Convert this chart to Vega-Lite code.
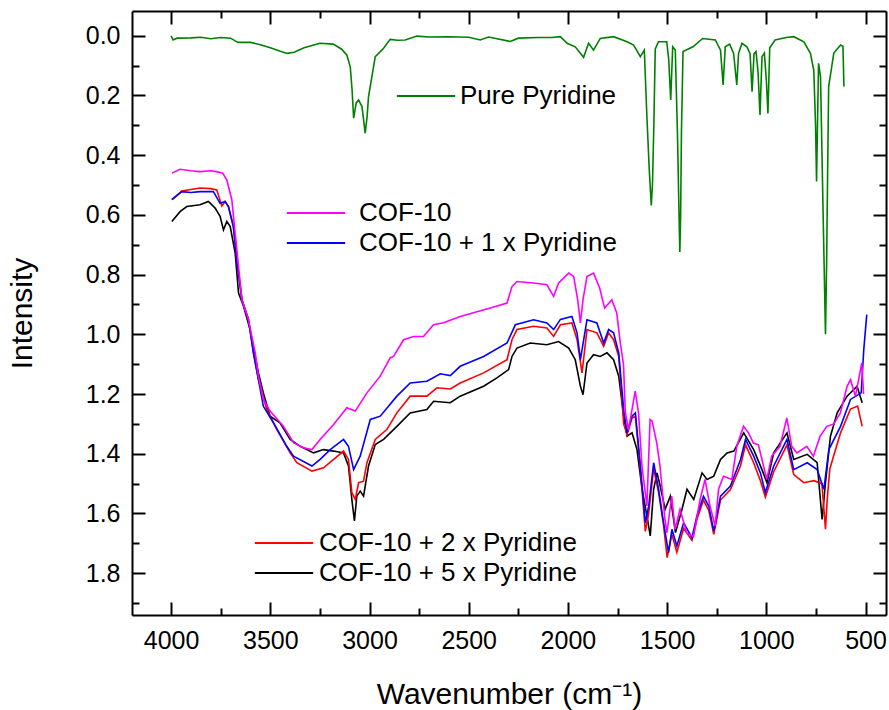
{
 "$schema": "https://vega.github.io/schema/vega-lite/v6.json",
 "width": 754,
 "height": 604,
 "autosize": {"type": "none"},
 "padding": {"left": 132, "top": 11, "right": 3, "bottom": 95},
 "background": "white",
 "config": {"view": {"stroke": null}, "font": "Liberation Sans"},
 "data": {"values": [
  {"s":"Pure Pyridine","w":4000,"v":0.0},{"s":"Pure Pyridine","w":3990,"v":0.014},{"s":"Pure Pyridine","w":3970,"v":0.008},{"s":"Pure Pyridine","w":3900,"v":0.007},{"s":"Pure Pyridine","w":3850,"v":0.005},{"s":"Pure Pyridine","w":3800,"v":0.01},{"s":"Pure Pyridine","w":3750,"v":0.006},{"s":"Pure Pyridine","w":3700,"v":0.008},{"s":"Pure Pyridine","w":3675,"v":0.018},{"s":"Pure Pyridine","w":3662,"v":0.022},{"s":"Pure Pyridine","w":3600,"v":0.022},{"s":"Pure Pyridine","w":3550,"v":0.03},{"s":"Pure Pyridine","w":3500,"v":0.04},{"s":"Pure Pyridine","w":3450,"v":0.052},{"s":"Pure Pyridine","w":3415,"v":0.059},{"s":"Pure Pyridine","w":3380,"v":0.055},{"s":"Pure Pyridine","w":3330,"v":0.04},{"s":"Pure Pyridine","w":3249,"v":0.025},{"s":"Pure Pyridine","w":3183,"v":0.028},{"s":"Pure Pyridine","w":3140,"v":0.045},{"s":"Pure Pyridine","w":3114,"v":0.065},{"s":"Pure Pyridine","w":3097,"v":0.104},{"s":"Pure Pyridine","w":3088,"v":0.18},{"s":"Pure Pyridine","w":3080,"v":0.276},{"s":"Pure Pyridine","w":3067,"v":0.225},{"s":"Pure Pyridine","w":3055,"v":0.215},{"s":"Pure Pyridine","w":3038,"v":0.237},{"s":"Pure Pyridine","w":3030,"v":0.28},{"s":"Pure Pyridine","w":3022,"v":0.326},{"s":"Pure Pyridine","w":3012,"v":0.27},{"s":"Pure Pyridine","w":3005,"v":0.204},{"s":"Pure Pyridine","w":2988,"v":0.137},{"s":"Pure Pyridine","w":2971,"v":0.07},{"s":"Pure Pyridine","w":2929,"v":0.042},{"s":"Pure Pyridine","w":2896,"v":0.012},{"s":"Pure Pyridine","w":2860,"v":0.015},{"s":"Pure Pyridine","w":2820,"v":0.014},{"s":"Pure Pyridine","w":2761,"v":0.001},{"s":"Pure Pyridine","w":2700,"v":0.004},{"s":"Pure Pyridine","w":2600,"v":0.003},{"s":"Pure Pyridine","w":2500,"v":0.005},{"s":"Pure Pyridine","w":2442,"v":0.014},{"s":"Pure Pyridine","w":2400,"v":0.004},{"s":"Pure Pyridine","w":2290,"v":0.019},{"s":"Pure Pyridine","w":2250,"v":0.008},{"s":"Pure Pyridine","w":2150,"v":0.006},{"s":"Pure Pyridine","w":2080,"v":0.006},{"s":"Pure Pyridine","w":2038,"v":0.003},{"s":"Pure Pyridine","w":2004,"v":0.025},{"s":"Pure Pyridine","w":1963,"v":0.037},{"s":"Pure Pyridine","w":1921,"v":0.072},{"s":"Pure Pyridine","w":1896,"v":0.025},{"s":"Pure Pyridine","w":1871,"v":0.048},{"s":"Pure Pyridine","w":1837,"v":0.009},{"s":"Pure Pyridine","w":1770,"v":0.003},{"s":"Pure Pyridine","w":1702,"v":0.02},{"s":"Pure Pyridine","w":1669,"v":0.031},{"s":"Pure Pyridine","w":1635,"v":0.07},{"s":"Pure Pyridine","w":1615,"v":0.048},{"s":"Pure Pyridine","w":1602,"v":0.271},{"s":"Pure Pyridine","w":1590,"v":0.45},{"s":"Pure Pyridine","w":1580,"v":0.568},{"s":"Pure Pyridine","w":1574,"v":0.5},{"s":"Pure Pyridine","w":1567,"v":0.3},{"s":"Pure Pyridine","w":1560,"v":0.045},{"s":"Pure Pyridine","w":1544,"v":0.02},{"s":"Pure Pyridine","w":1502,"v":0.02},{"s":"Pure Pyridine","w":1492,"v":0.08},{"s":"Pure Pyridine","w":1482,"v":0.215},{"s":"Pure Pyridine","w":1472,"v":0.037},{"s":"Pure Pyridine","w":1459,"v":0.048},{"s":"Pure Pyridine","w":1448,"v":0.327},{"s":"Pure Pyridine","w":1440,"v":0.6},{"s":"Pure Pyridine","w":1436,"v":0.724},{"s":"Pure Pyridine","w":1432,"v":0.6},{"s":"Pure Pyridine","w":1428,"v":0.327},{"s":"Pure Pyridine","w":1420,"v":0.053},{"s":"Pure Pyridine","w":1370,"v":0.037},{"s":"Pure Pyridine","w":1321,"v":0.009},{"s":"Pure Pyridine","w":1257,"v":0.014},{"s":"Pure Pyridine","w":1231,"v":0.048},{"s":"Pure Pyridine","w":1218,"v":0.165},{"s":"Pure Pyridine","w":1207,"v":0.037},{"s":"Pure Pyridine","w":1185,"v":0.028},{"s":"Pure Pyridine","w":1165,"v":0.059},{"s":"Pure Pyridine","w":1149,"v":0.165},{"s":"Pure Pyridine","w":1140,"v":0.059},{"s":"Pure Pyridine","w":1123,"v":0.025},{"s":"Pure Pyridine","w":1098,"v":0.037},{"s":"Pure Pyridine","w":1082,"v":0.06},{"s":"Pure Pyridine","w":1072,"v":0.187},{"s":"Pure Pyridine","w":1062,"v":0.06},{"s":"Pure Pyridine","w":1052,"v":0.053},{"s":"Pure Pyridine","w":1042,"v":0.12},{"s":"Pure Pyridine","w":1032,"v":0.265},{"s":"Pure Pyridine","w":1022,"v":0.07},{"s":"Pure Pyridine","w":1010,"v":0.058},{"s":"Pure Pyridine","w":1000,"v":0.15},{"s":"Pure Pyridine","w":992,"v":0.26},{"s":"Pure Pyridine","w":983,"v":0.04},{"s":"Pure Pyridine","w":956,"v":0.014},{"s":"Pure Pyridine","w":900,"v":0.006},{"s":"Pure Pyridine","w":862,"v":0.003},{"s":"Pure Pyridine","w":811,"v":0.02},{"s":"Pure Pyridine","w":778,"v":0.059},{"s":"Pure Pyridine","w":761,"v":0.115},{"s":"Pure Pyridine","w":752,"v":0.3},{"s":"Pure Pyridine","w":747,"v":0.488},{"s":"Pure Pyridine","w":741,"v":0.25},{"s":"Pure Pyridine","w":737,"v":0.092},{"s":"Pure Pyridine","w":727,"v":0.137},{"s":"Pure Pyridine","w":712,"v":0.661},{"s":"Pure Pyridine","w":702,"v":1.0},{"s":"Pure Pyridine","w":696,"v":0.75},{"s":"Pure Pyridine","w":692,"v":0.505},{"s":"Pure Pyridine","w":686,"v":0.17},{"s":"Pure Pyridine","w":660,"v":0.058},{"s":"Pure Pyridine","w":626,"v":0.031},{"s":"Pure Pyridine","w":614,"v":0.035},{"s":"Pure Pyridine","w":609,"v":0.17},

  {"s":"COF-10 + 5 x Pyridine","w":3996,"v":0.622},{"s":"COF-10 + 5 x Pyridine","w":3955,"v":0.589},{"s":"COF-10 + 5 x Pyridine","w":3921,"v":0.572},{"s":"COF-10 + 5 x Pyridine","w":3854,"v":0.566},{"s":"COF-10 + 5 x Pyridine","w":3812,"v":0.555},{"s":"COF-10 + 5 x Pyridine","w":3778,"v":0.577},{"s":"COF-10 + 5 x Pyridine","w":3753,"v":0.605},{"s":"COF-10 + 5 x Pyridine","w":3736,"v":0.65},{"s":"COF-10 + 5 x Pyridine","w":3719,"v":0.622},{"s":"COF-10 + 5 x Pyridine","w":3702,"v":0.639},{"s":"COF-10 + 5 x Pyridine","w":3677,"v":0.728},{"s":"COF-10 + 5 x Pyridine","w":3660,"v":0.862},{"s":"COF-10 + 5 x Pyridine","w":3635,"v":0.906},{"s":"COF-10 + 5 x Pyridine","w":3602,"v":0.984},{"s":"COF-10 + 5 x Pyridine","w":3576,"v":1.074},{"s":"COF-10 + 5 x Pyridine","w":3560,"v":1.129},{"s":"COF-10 + 5 x Pyridine","w":3535,"v":1.196},{"s":"COF-10 + 5 x Pyridine","w":3501,"v":1.274},{"s":"COF-10 + 5 x Pyridine","w":3451,"v":1.296},{"s":"COF-10 + 5 x Pyridine","w":3400,"v":1.352},{"s":"COF-10 + 5 x Pyridine","w":3349,"v":1.375},{"s":"COF-10 + 5 x Pyridine","w":3282,"v":1.397},{"s":"COF-10 + 5 x Pyridine","w":3232,"v":1.386},{"s":"COF-10 + 5 x Pyridine","w":3181,"v":1.391},{"s":"COF-10 + 5 x Pyridine","w":3131,"v":1.397},{"s":"COF-10 + 5 x Pyridine","w":3106,"v":1.441},{"s":"COF-10 + 5 x Pyridine","w":3089,"v":1.553},{"s":"COF-10 + 5 x Pyridine","w":3076,"v":1.625},{"s":"COF-10 + 5 x Pyridine","w":3064,"v":1.542},{"s":"COF-10 + 5 x Pyridine","w":3047,"v":1.525},{"s":"COF-10 + 5 x Pyridine","w":3030,"v":1.542},{"s":"COF-10 + 5 x Pyridine","w":3005,"v":1.441},{"s":"COF-10 + 5 x Pyridine","w":2971,"v":1.369},{"s":"COF-10 + 5 x Pyridine","w":2929,"v":1.352},{"s":"COF-10 + 5 x Pyridine","w":2862,"v":1.308},{"s":"COF-10 + 5 x Pyridine","w":2795,"v":1.263},{"s":"COF-10 + 5 x Pyridine","w":2711,"v":1.252},{"s":"COF-10 + 5 x Pyridine","w":2677,"v":1.224},{"s":"COF-10 + 5 x Pyridine","w":2593,"v":1.229},{"s":"COF-10 + 5 x Pyridine","w":2543,"v":1.207},{"s":"COF-10 + 5 x Pyridine","w":2425,"v":1.174},{"s":"COF-10 + 5 x Pyridine","w":2358,"v":1.146},{"s":"COF-10 + 5 x Pyridine","w":2299,"v":1.118},{"s":"COF-10 + 5 x Pyridine","w":2282,"v":1.074},{"s":"COF-10 + 5 x Pyridine","w":2257,"v":1.046},{"s":"COF-10 + 5 x Pyridine","w":2190,"v":1.029},{"s":"COF-10 + 5 x Pyridine","w":2106,"v":1.035},{"s":"COF-10 + 5 x Pyridine","w":2047,"v":1.024},{"s":"COF-10 + 5 x Pyridine","w":1996,"v":1.046},{"s":"COF-10 + 5 x Pyridine","w":1963,"v":1.085},{"s":"COF-10 + 5 x Pyridine","w":1937,"v":1.174},{"s":"COF-10 + 5 x Pyridine","w":1924,"v":1.202},{"s":"COF-10 + 5 x Pyridine","w":1904,"v":1.096},{"s":"COF-10 + 5 x Pyridine","w":1871,"v":1.068},{"s":"COF-10 + 5 x Pyridine","w":1837,"v":1.074},{"s":"COF-10 + 5 x Pyridine","w":1803,"v":1.062},{"s":"COF-10 + 5 x Pyridine","w":1770,"v":1.085},{"s":"COF-10 + 5 x Pyridine","w":1744,"v":1.14},{"s":"COF-10 + 5 x Pyridine","w":1719,"v":1.274},{"s":"COF-10 + 5 x Pyridine","w":1702,"v":1.341},{"s":"COF-10 + 5 x Pyridine","w":1677,"v":1.33},{"s":"COF-10 + 5 x Pyridine","w":1652,"v":1.386},{"s":"COF-10 + 5 x Pyridine","w":1626,"v":1.519},{"s":"COF-10 + 5 x Pyridine","w":1602,"v":1.608},{"s":"COF-10 + 5 x Pyridine","w":1585,"v":1.675},{"s":"COF-10 + 5 x Pyridine","w":1568,"v":1.519},{"s":"COF-10 + 5 x Pyridine","w":1551,"v":1.464},{"s":"COF-10 + 5 x Pyridine","w":1535,"v":1.508},{"s":"COF-10 + 5 x Pyridine","w":1510,"v":1.586},{"s":"COF-10 + 5 x Pyridine","w":1484,"v":1.542},{"s":"COF-10 + 5 x Pyridine","w":1458,"v":1.664},{"s":"COF-10 + 5 x Pyridine","w":1425,"v":1.586},{"s":"COF-10 + 5 x Pyridine","w":1400,"v":1.519},{"s":"COF-10 + 5 x Pyridine","w":1366,"v":1.553},{"s":"COF-10 + 5 x Pyridine","w":1324,"v":1.464},{"s":"COF-10 + 5 x Pyridine","w":1299,"v":1.486},{"s":"COF-10 + 5 x Pyridine","w":1265,"v":1.475},{"s":"COF-10 + 5 x Pyridine","w":1231,"v":1.419},{"s":"COF-10 + 5 x Pyridine","w":1198,"v":1.397},{"s":"COF-10 + 5 x Pyridine","w":1164,"v":1.391},{"s":"COF-10 + 5 x Pyridine","w":1114,"v":1.33},{"s":"COF-10 + 5 x Pyridine","w":1064,"v":1.386},{"s":"COF-10 + 5 x Pyridine","w":1022,"v":1.453},{"s":"COF-10 + 5 x Pyridine","w":997,"v":1.497},{"s":"COF-10 + 5 x Pyridine","w":963,"v":1.397},{"s":"COF-10 + 5 x Pyridine","w":896,"v":1.33},{"s":"COF-10 + 5 x Pyridine","w":862,"v":1.419},{"s":"COF-10 + 5 x Pyridine","w":794,"v":1.402},{"s":"COF-10 + 5 x Pyridine","w":744,"v":1.43},{"s":"COF-10 + 5 x Pyridine","w":719,"v":1.62},{"s":"COF-10 + 5 x Pyridine","w":702,"v":1.497},{"s":"COF-10 + 5 x Pyridine","w":677,"v":1.341},{"s":"COF-10 + 5 x Pyridine","w":643,"v":1.263},{"s":"COF-10 + 5 x Pyridine","w":593,"v":1.207},{"s":"COF-10 + 5 x Pyridine","w":543,"v":1.174},{"s":"COF-10 + 5 x Pyridine","w":517,"v":1.229},

  {"s":"COF-10 + 2 x Pyridine","w":3996,"v":0.549},{"s":"COF-10 + 2 x Pyridine","w":3946,"v":0.52},{"s":"COF-10 + 2 x Pyridine","w":3900,"v":0.515},{"s":"COF-10 + 2 x Pyridine","w":3854,"v":0.51},{"s":"COF-10 + 2 x Pyridine","w":3800,"v":0.512},{"s":"COF-10 + 2 x Pyridine","w":3770,"v":0.516},{"s":"COF-10 + 2 x Pyridine","w":3744,"v":0.57},{"s":"COF-10 + 2 x Pyridine","w":3728,"v":0.555},{"s":"COF-10 + 2 x Pyridine","w":3711,"v":0.572},{"s":"COF-10 + 2 x Pyridine","w":3686,"v":0.639},{"s":"COF-10 + 2 x Pyridine","w":3669,"v":0.75},{"s":"COF-10 + 2 x Pyridine","w":3643,"v":0.884},{"s":"COF-10 + 2 x Pyridine","w":3610,"v":0.951},{"s":"COF-10 + 2 x Pyridine","w":3585,"v":1.062},{"s":"COF-10 + 2 x Pyridine","w":3560,"v":1.151},{"s":"COF-10 + 2 x Pyridine","w":3518,"v":1.252},{"s":"COF-10 + 2 x Pyridine","w":3467,"v":1.319},{"s":"COF-10 + 2 x Pyridine","w":3400,"v":1.397},{"s":"COF-10 + 2 x Pyridine","w":3366,"v":1.43},{"s":"COF-10 + 2 x Pyridine","w":3290,"v":1.458},{"s":"COF-10 + 2 x Pyridine","w":3232,"v":1.447},{"s":"COF-10 + 2 x Pyridine","w":3181,"v":1.419},{"s":"COF-10 + 2 x Pyridine","w":3131,"v":1.391},{"s":"COF-10 + 2 x Pyridine","w":3106,"v":1.419},{"s":"COF-10 + 2 x Pyridine","w":3089,"v":1.53},{"s":"COF-10 + 2 x Pyridine","w":3072,"v":1.553},{"s":"COF-10 + 2 x Pyridine","w":3055,"v":1.497},{"s":"COF-10 + 2 x Pyridine","w":3030,"v":1.492},{"s":"COF-10 + 2 x Pyridine","w":3013,"v":1.43},{"s":"COF-10 + 2 x Pyridine","w":2971,"v":1.352},{"s":"COF-10 + 2 x Pyridine","w":2913,"v":1.319},{"s":"COF-10 + 2 x Pyridine","w":2862,"v":1.263},{"s":"COF-10 + 2 x Pyridine","w":2795,"v":1.207},{"s":"COF-10 + 2 x Pyridine","w":2711,"v":1.207},{"s":"COF-10 + 2 x Pyridine","w":2660,"v":1.179},{"s":"COF-10 + 2 x Pyridine","w":2593,"v":1.183},{"s":"COF-10 + 2 x Pyridine","w":2543,"v":1.163},{"s":"COF-10 + 2 x Pyridine","w":2425,"v":1.129},{"s":"COF-10 + 2 x Pyridine","w":2307,"v":1.085},{"s":"COF-10 + 2 x Pyridine","w":2282,"v":1.018},{"s":"COF-10 + 2 x Pyridine","w":2257,"v":0.984},{"s":"COF-10 + 2 x Pyridine","w":2173,"v":0.973},{"s":"COF-10 + 2 x Pyridine","w":2106,"v":0.979},{"s":"COF-10 + 2 x Pyridine","w":2072,"v":1.007},{"s":"COF-10 + 2 x Pyridine","w":2038,"v":0.968},{"s":"COF-10 + 2 x Pyridine","w":1980,"v":0.962},{"s":"COF-10 + 2 x Pyridine","w":1954,"v":1.018},{"s":"COF-10 + 2 x Pyridine","w":1929,"v":1.129},{"s":"COF-10 + 2 x Pyridine","w":1904,"v":0.984},{"s":"COF-10 + 2 x Pyridine","w":1854,"v":0.995},{"s":"COF-10 + 2 x Pyridine","w":1820,"v":1.04},{"s":"COF-10 + 2 x Pyridine","w":1795,"v":0.995},{"s":"COF-10 + 2 x Pyridine","w":1770,"v":1.018},{"s":"COF-10 + 2 x Pyridine","w":1744,"v":1.074},{"s":"COF-10 + 2 x Pyridine","w":1730,"v":1.2},{"s":"COF-10 + 2 x Pyridine","w":1719,"v":1.3},{"s":"COF-10 + 2 x Pyridine","w":1702,"v":1.336},{"s":"COF-10 + 2 x Pyridine","w":1677,"v":1.28},{"s":"COF-10 + 2 x Pyridine","w":1660,"v":1.275},{"s":"COF-10 + 2 x Pyridine","w":1635,"v":1.45},{"s":"COF-10 + 2 x Pyridine","w":1610,"v":1.66},{"s":"COF-10 + 2 x Pyridine","w":1593,"v":1.6},{"s":"COF-10 + 2 x Pyridine","w":1568,"v":1.45},{"s":"COF-10 + 2 x Pyridine","w":1543,"v":1.53},{"s":"COF-10 + 2 x Pyridine","w":1518,"v":1.64},{"s":"COF-10 + 2 x Pyridine","w":1500,"v":1.748},{"s":"COF-10 + 2 x Pyridine","w":1476,"v":1.67},{"s":"COF-10 + 2 x Pyridine","w":1451,"v":1.73},{"s":"COF-10 + 2 x Pyridine","w":1417,"v":1.65},{"s":"COF-10 + 2 x Pyridine","w":1375,"v":1.69},{"s":"COF-10 + 2 x Pyridine","w":1350,"v":1.62},{"s":"COF-10 + 2 x Pyridine","w":1317,"v":1.555},{"s":"COF-10 + 2 x Pyridine","w":1290,"v":1.59},{"s":"COF-10 + 2 x Pyridine","w":1265,"v":1.67},{"s":"COF-10 + 2 x Pyridine","w":1231,"v":1.555},{"s":"COF-10 + 2 x Pyridine","w":1181,"v":1.52},{"s":"COF-10 + 2 x Pyridine","w":1130,"v":1.44},{"s":"COF-10 + 2 x Pyridine","w":1105,"v":1.37},{"s":"COF-10 + 2 x Pyridine","w":1064,"v":1.43},{"s":"COF-10 + 2 x Pyridine","w":1030,"v":1.49},{"s":"COF-10 + 2 x Pyridine","w":1005,"v":1.545},{"s":"COF-10 + 2 x Pyridine","w":963,"v":1.46},{"s":"COF-10 + 2 x Pyridine","w":896,"v":1.37},{"s":"COF-10 + 2 x Pyridine","w":862,"v":1.47},{"s":"COF-10 + 2 x Pyridine","w":811,"v":1.497},{"s":"COF-10 + 2 x Pyridine","w":760,"v":1.49},{"s":"COF-10 + 2 x Pyridine","w":720,"v":1.5},{"s":"COF-10 + 2 x Pyridine","w":702,"v":1.653},{"s":"COF-10 + 2 x Pyridine","w":693,"v":1.55},{"s":"COF-10 + 2 x Pyridine","w":680,"v":1.45},{"s":"COF-10 + 2 x Pyridine","w":626,"v":1.33},{"s":"COF-10 + 2 x Pyridine","w":576,"v":1.25},{"s":"COF-10 + 2 x Pyridine","w":540,"v":1.24},{"s":"COF-10 + 2 x Pyridine","w":517,"v":1.308},

  {"s":"COF-10 + 1 x Pyridine","w":3996,"v":0.549},{"s":"COF-10 + 1 x Pyridine","w":3946,"v":0.522},{"s":"COF-10 + 1 x Pyridine","w":3900,"v":0.525},{"s":"COF-10 + 1 x Pyridine","w":3854,"v":0.522},{"s":"COF-10 + 1 x Pyridine","w":3787,"v":0.522},{"s":"COF-10 + 1 x Pyridine","w":3753,"v":0.561},{"s":"COF-10 + 1 x Pyridine","w":3728,"v":0.555},{"s":"COF-10 + 1 x Pyridine","w":3711,"v":0.572},{"s":"COF-10 + 1 x Pyridine","w":3686,"v":0.639},{"s":"COF-10 + 1 x Pyridine","w":3669,"v":0.75},{"s":"COF-10 + 1 x Pyridine","w":3643,"v":0.884},{"s":"COF-10 + 1 x Pyridine","w":3610,"v":0.951},{"s":"COF-10 + 1 x Pyridine","w":3585,"v":1.062},{"s":"COF-10 + 1 x Pyridine","w":3560,"v":1.151},{"s":"COF-10 + 1 x Pyridine","w":3535,"v":1.241},{"s":"COF-10 + 1 x Pyridine","w":3484,"v":1.296},{"s":"COF-10 + 1 x Pyridine","w":3417,"v":1.375},{"s":"COF-10 + 1 x Pyridine","w":3383,"v":1.408},{"s":"COF-10 + 1 x Pyridine","w":3290,"v":1.441},{"s":"COF-10 + 1 x Pyridine","w":3249,"v":1.419},{"s":"COF-10 + 1 x Pyridine","w":3198,"v":1.386},{"s":"COF-10 + 1 x Pyridine","w":3131,"v":1.352},{"s":"COF-10 + 1 x Pyridine","w":3106,"v":1.375},{"s":"COF-10 + 1 x Pyridine","w":3080,"v":1.453},{"s":"COF-10 + 1 x Pyridine","w":3047,"v":1.408},{"s":"COF-10 + 1 x Pyridine","w":2996,"v":1.285},{"s":"COF-10 + 1 x Pyridine","w":2946,"v":1.274},{"s":"COF-10 + 1 x Pyridine","w":2862,"v":1.207},{"s":"COF-10 + 1 x Pyridine","w":2795,"v":1.163},{"s":"COF-10 + 1 x Pyridine","w":2711,"v":1.157},{"s":"COF-10 + 1 x Pyridine","w":2643,"v":1.132},{"s":"COF-10 + 1 x Pyridine","w":2593,"v":1.138},{"s":"COF-10 + 1 x Pyridine","w":2543,"v":1.107},{"s":"COF-10 + 1 x Pyridine","w":2425,"v":1.074},{"s":"COF-10 + 1 x Pyridine","w":2307,"v":1.029},{"s":"COF-10 + 1 x Pyridine","w":2265,"v":0.968},{"s":"COF-10 + 1 x Pyridine","w":2173,"v":0.951},{"s":"COF-10 + 1 x Pyridine","w":2106,"v":0.962},{"s":"COF-10 + 1 x Pyridine","w":2072,"v":0.984},{"s":"COF-10 + 1 x Pyridine","w":2038,"v":0.95},{"s":"COF-10 + 1 x Pyridine","w":1980,"v":0.94},{"s":"COF-10 + 1 x Pyridine","w":1954,"v":0.995},{"s":"COF-10 + 1 x Pyridine","w":1937,"v":1.085},{"s":"COF-10 + 1 x Pyridine","w":1904,"v":0.951},{"s":"COF-10 + 1 x Pyridine","w":1854,"v":0.962},{"s":"COF-10 + 1 x Pyridine","w":1820,"v":1.029},{"s":"COF-10 + 1 x Pyridine","w":1795,"v":0.984},{"s":"COF-10 + 1 x Pyridine","w":1770,"v":0.995},{"s":"COF-10 + 1 x Pyridine","w":1744,"v":1.062},{"s":"COF-10 + 1 x Pyridine","w":1719,"v":1.252},{"s":"COF-10 + 1 x Pyridine","w":1702,"v":1.33},{"s":"COF-10 + 1 x Pyridine","w":1677,"v":1.274},{"s":"COF-10 + 1 x Pyridine","w":1660,"v":1.263},{"s":"COF-10 + 1 x Pyridine","w":1635,"v":1.441},{"s":"COF-10 + 1 x Pyridine","w":1610,"v":1.631},{"s":"COF-10 + 1 x Pyridine","w":1593,"v":1.575},{"s":"COF-10 + 1 x Pyridine","w":1568,"v":1.43},{"s":"COF-10 + 1 x Pyridine","w":1543,"v":1.519},{"s":"COF-10 + 1 x Pyridine","w":1518,"v":1.631},{"s":"COF-10 + 1 x Pyridine","w":1493,"v":1.731},{"s":"COF-10 + 1 x Pyridine","w":1476,"v":1.653},{"s":"COF-10 + 1 x Pyridine","w":1451,"v":1.709},{"s":"COF-10 + 1 x Pyridine","w":1417,"v":1.631},{"s":"COF-10 + 1 x Pyridine","w":1375,"v":1.681},{"s":"COF-10 + 1 x Pyridine","w":1350,"v":1.608},{"s":"COF-10 + 1 x Pyridine","w":1317,"v":1.542},{"s":"COF-10 + 1 x Pyridine","w":1290,"v":1.575},{"s":"COF-10 + 1 x Pyridine","w":1265,"v":1.659},{"s":"COF-10 + 1 x Pyridine","w":1231,"v":1.542},{"s":"COF-10 + 1 x Pyridine","w":1181,"v":1.508},{"s":"COF-10 + 1 x Pyridine","w":1130,"v":1.419},{"s":"COF-10 + 1 x Pyridine","w":1105,"v":1.352},{"s":"COF-10 + 1 x Pyridine","w":1064,"v":1.408},{"s":"COF-10 + 1 x Pyridine","w":1030,"v":1.464},{"s":"COF-10 + 1 x Pyridine","w":1005,"v":1.53},{"s":"COF-10 + 1 x Pyridine","w":963,"v":1.441},{"s":"COF-10 + 1 x Pyridine","w":896,"v":1.352},{"s":"COF-10 + 1 x Pyridine","w":862,"v":1.453},{"s":"COF-10 + 1 x Pyridine","w":794,"v":1.43},{"s":"COF-10 + 1 x Pyridine","w":744,"v":1.453},{"s":"COF-10 + 1 x Pyridine","w":710,"v":1.519},{"s":"COF-10 + 1 x Pyridine","w":685,"v":1.386},{"s":"COF-10 + 1 x Pyridine","w":626,"v":1.308},{"s":"COF-10 + 1 x Pyridine","w":576,"v":1.218},{"s":"COF-10 + 1 x Pyridine","w":522,"v":1.196},{"s":"COF-10 + 1 x Pyridine","w":509,"v":1.051},{"s":"COF-10 + 1 x Pyridine","w":494,"v":0.934},

  {"s":"COF-10","w":3996,"v":0.46},{"s":"COF-10","w":3955,"v":0.447},{"s":"COF-10","w":3900,"v":0.452},{"s":"COF-10","w":3854,"v":0.455},{"s":"COF-10","w":3800,"v":0.452},{"s":"COF-10","w":3770,"v":0.455},{"s":"COF-10","w":3740,"v":0.46},{"s":"COF-10","w":3719,"v":0.483},{"s":"COF-10","w":3694,"v":0.549},{"s":"COF-10","w":3677,"v":0.661},{"s":"COF-10","w":3660,"v":0.773},{"s":"COF-10","w":3643,"v":0.884},{"s":"COF-10","w":3610,"v":0.951},{"s":"COF-10","w":3576,"v":1.062},{"s":"COF-10","w":3560,"v":1.14},{"s":"COF-10","w":3535,"v":1.218},{"s":"COF-10","w":3501,"v":1.257},{"s":"COF-10","w":3434,"v":1.308},{"s":"COF-10","w":3383,"v":1.363},{"s":"COF-10","w":3333,"v":1.38},{"s":"COF-10","w":3290,"v":1.386},{"s":"COF-10","w":3249,"v":1.352},{"s":"COF-10","w":3181,"v":1.302},{"s":"COF-10","w":3114,"v":1.246},{"s":"COF-10","w":3072,"v":1.257},{"s":"COF-10","w":3013,"v":1.196},{"s":"COF-10","w":2946,"v":1.14},{"s":"COF-10","w":2896,"v":1.079},{"s":"COF-10","w":2879,"v":1.074},{"s":"COF-10","w":2828,"v":1.018},{"s":"COF-10","w":2778,"v":1.007},{"s":"COF-10","w":2728,"v":1.007},{"s":"COF-10","w":2677,"v":0.968},{"s":"COF-10","w":2627,"v":0.961},{"s":"COF-10","w":2543,"v":0.94},{"s":"COF-10","w":2391,"v":0.912},{"s":"COF-10","w":2307,"v":0.895},{"s":"COF-10","w":2282,"v":0.84},{"s":"COF-10","w":2257,"v":0.823},{"s":"COF-10","w":2173,"v":0.828},{"s":"COF-10","w":2106,"v":0.834},{"s":"COF-10","w":2072,"v":0.873},{"s":"COF-10","w":2047,"v":0.828},{"s":"COF-10","w":1996,"v":0.795},{"s":"COF-10","w":1971,"v":0.806},{"s":"COF-10","w":1951,"v":0.884},{"s":"COF-10","w":1937,"v":0.962},{"s":"COF-10","w":1924,"v":0.884},{"s":"COF-10","w":1904,"v":0.806},{"s":"COF-10","w":1871,"v":0.795},{"s":"COF-10","w":1840,"v":0.845},{"s":"COF-10","w":1815,"v":0.912},{"s":"COF-10","w":1779,"v":0.884},{"s":"COF-10","w":1754,"v":0.928},{"s":"COF-10","w":1736,"v":1.029},{"s":"COF-10","w":1720,"v":1.1},{"s":"COF-10","w":1711,"v":1.26},{"s":"COF-10","w":1695,"v":1.32},{"s":"COF-10","w":1677,"v":1.252},{"s":"COF-10","w":1661,"v":1.19},{"s":"COF-10","w":1644,"v":1.264},{"s":"COF-10","w":1627,"v":1.441},{"s":"COF-10","w":1602,"v":1.575},{"s":"COF-10","w":1586,"v":1.285},{"s":"COF-10","w":1576,"v":1.29},{"s":"COF-10","w":1552,"v":1.365},{"s":"COF-10","w":1536,"v":1.441},{"s":"COF-10","w":1511,"v":1.62},{"s":"COF-10","w":1501,"v":1.664},{"s":"COF-10","w":1477,"v":1.542},{"s":"COF-10","w":1460,"v":1.653},{"s":"COF-10","w":1435,"v":1.586},{"s":"COF-10","w":1401,"v":1.666},{"s":"COF-10","w":1367,"v":1.677},{"s":"COF-10","w":1334,"v":1.553},{"s":"COF-10","w":1309,"v":1.486},{"s":"COF-10","w":1284,"v":1.575},{"s":"COF-10","w":1258,"v":1.642},{"s":"COF-10","w":1241,"v":1.519},{"s":"COF-10","w":1216,"v":1.475},{"s":"COF-10","w":1174,"v":1.486},{"s":"COF-10","w":1149,"v":1.375},{"s":"COF-10","w":1115,"v":1.308},{"s":"COF-10","w":1090,"v":1.33},{"s":"COF-10","w":1065,"v":1.364},{"s":"COF-10","w":1040,"v":1.37},{"s":"COF-10","w":998,"v":1.486},{"s":"COF-10","w":973,"v":1.408},{"s":"COF-10","w":931,"v":1.375},{"s":"COF-10","w":897,"v":1.28},{"s":"COF-10","w":872,"v":1.375},{"s":"COF-10","w":846,"v":1.397},{"s":"COF-10","w":796,"v":1.375},{"s":"COF-10","w":763,"v":1.408},{"s":"COF-10","w":729,"v":1.341},{"s":"COF-10","w":695,"v":1.308},{"s":"COF-10","w":660,"v":1.3},{"s":"COF-10","w":627,"v":1.263},{"s":"COF-10","w":593,"v":1.174},{"s":"COF-10","w":576,"v":1.152},{"s":"COF-10","w":551,"v":1.207},{"s":"COF-10","w":519,"v":1.096},{"s":"COF-10","w":510,"v":1.2}
 ]},
 "layer": [
  {
   "encoding": {
    "x": {"field": "w", "type": "quantitative",
      "scale": {"domain": [397, 4197], "reverse": true, "nice": false, "zero": false},
      "axis": {"orient": "bottom", "values": [500,750,1000,1250,1500,1750,2000,2250,2500,2750,3000,3250,3500,3750,4000],
        "tickSize": {"condition": {"test": "datum.value % 500 === 0", "value": -13}, "value": -7},
        "tickWidth": 2, "tickColor": "black", "domainColor": "black", "domainWidth": 2, "grid": false,
        "format": "d", "labelExpr": "datum.value % 500 === 0 ? datum.label : ''",
        "labelFont": "Liberation Sans", "labelFontSize": 25, "labelColor": "black", "labelPadding": 26,
        "labelFlush": false, "labelOverlap": false,
        "title": "Wavenumber (cm\u207b\u00b9)", "titleFont": "Liberation Sans", "titleFontSize": 30, "titleFontWeight": "normal", "titleColor": "black", "titlePadding": 20}},
    "y": {"field": "v", "type": "quantitative",
      "scale": {"domain": [-0.083, 1.94], "reverse": true, "nice": false, "zero": false},
      "axis": {"orient": "left", "values": [0,0.1,0.2,0.3,0.4,0.5,0.6,0.7,0.8,0.9,1.0,1.1,1.2,1.3,1.4,1.5,1.6,1.7,1.8,1.9],
        "tickSize": {"condition": {"test": "round(datum.value*10) % 2 === 0", "value": -13}, "value": -7},
        "tickWidth": 2, "tickColor": "black", "domainColor": "black", "domainWidth": 2, "grid": false,
        "labelExpr": "round(datum.value*10) % 2 === 0 ? format(datum.value, '.1f') : ''",
        "labelFont": "Liberation Sans", "labelFontSize": 25, "labelColor": "black", "labelPadding": 25,
        "labelFlush": false, "labelOverlap": false,
        "title": "Intensity", "titleFont": "Liberation Sans", "titleFontSize": 30, "titleFontWeight": "normal", "titleColor": "black", "titlePadding": 48}}
   },
   "layer": [
    {
     "transform": [{"filter": {"field": "s", "oneOf": ["COF-10 + 2 x Pyridine", "COF-10 + 5 x Pyridine"]}}],
     "mark": {"type": "line", "strokeWidth": 1.6},
     "encoding": {"color": {"field": "s", "type": "nominal",
       "scale": {"domain": ["COF-10 + 2 x Pyridine", "COF-10 + 5 x Pyridine"], "range": ["#FF0000", "#000000"]},
       "legend": {"orient": "none", "legendX": 139, "legendY": 519, "title": null, "padding": 0, "rowPadding": 4,
         "symbolType": "M-5,0L5,0", "symbolSize": 136, "symbolStrokeWidth": 2,
         "labelFont": "Liberation Sans", "labelFontSize": 26, "labelColor": "black", "labelOffset": 22, "labelLimit": 600}}}
    },
    {
     "transform": [{"filter": {"field": "s", "oneOf": ["COF-10", "COF-10 + 1 x Pyridine"]}}],
     "mark": {"type": "line", "strokeWidth": 1.6},
     "encoding": {"color": {"field": "s", "type": "nominal",
       "scale": {"domain": ["COF-10", "COF-10 + 1 x Pyridine"], "range": ["#FF00FF", "#0000FF"]},
       "legend": {"orient": "none", "legendX": 171, "legendY": 189, "title": null, "padding": 0, "rowPadding": 4,
         "symbolType": "M-5,0L5,0", "symbolSize": 136, "symbolStrokeWidth": 2,
         "labelFont": "Liberation Sans", "labelFontSize": 26, "labelColor": "black", "labelOffset": 30, "labelLimit": 600}}}
    },
    {
     "transform": [{"filter": {"field": "s", "equal": "Pure Pyridine"}}],
     "mark": {"type": "line", "strokeWidth": 1.6},
     "encoding": {"color": {"field": "s", "type": "nominal",
       "scale": {"domain": ["Pure Pyridine"], "range": ["#008000"]},
       "legend": {"orient": "none", "legendX": 281, "legendY": 72, "title": null, "padding": 0, "rowPadding": 4,
         "symbolType": "M-5,0L5,0", "symbolSize": 136, "symbolStrokeWidth": 2,
         "labelFont": "Liberation Sans", "labelFontSize": 26, "labelColor": "black", "labelOffset": 21, "labelLimit": 600}}}
    }
   ],
   "resolve": {"scale": {"color": "independent"}}
  },
  {
   "mark": {"type": "line", "opacity": 0, "strokeWidth": 0},
   "encoding": {
    "x": {"field": "w", "type": "quantitative",
      "axis": {"orient": "top", "values": [500,750,1000,1250,1500,1750,2000,2250,2500,2750,3000,3250,3500,3750,4000],
        "tickSize": {"condition": {"test": "datum.value % 500 === 0", "value": -13}, "value": -7},
        "tickWidth": 2, "tickColor": "black", "domainColor": "black", "domainWidth": 2, "grid": false,
        "labels": false, "title": null}},
    "y": {"field": "v", "type": "quantitative",
      "axis": {"orient": "right", "values": [0,0.1,0.2,0.3,0.4,0.5,0.6,0.7,0.8,0.9,1.0,1.1,1.2,1.3,1.4,1.5,1.6,1.7,1.8,1.9],
        "tickSize": {"condition": {"test": "round(datum.value*10) % 2 === 0", "value": -13}, "value": -7},
        "tickWidth": 2, "tickColor": "black", "domainColor": "black", "domainWidth": 2, "grid": false,
        "labels": false, "title": null}}
   }
  }
 ],
 "resolve": {"axis": {"x": "independent", "y": "independent"}}
}
